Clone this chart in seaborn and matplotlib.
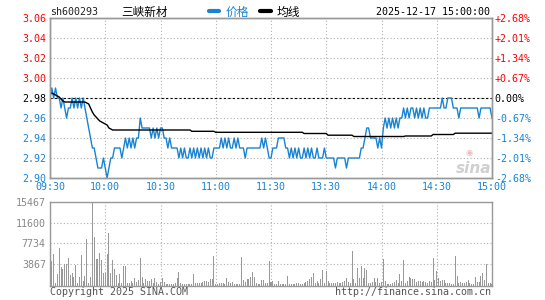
import numpy as np
import pandas as pd
import matplotlib
matplotlib.use("Agg")
import matplotlib.pyplot as plt
import seaborn as sns

# Datos (un valor por minuto, 09:30-11:30 + 13:00-15:00)
prev_close = 2.98
price_am = [
    2.98, 2.99, 2.98, 2.99, 2.98, 2.98, 2.97, 2.98, 2.97, 2.96,
    2.97, 2.97, 2.98, 2.97, 2.98, 2.97, 2.98, 2.97, 2.98, 2.97,
    2.96, 2.95, 2.94, 2.93, 2.93, 2.92, 2.91, 2.91, 2.91, 2.92,
    2.91, 2.90, 2.91, 2.92, 2.92, 2.93, 2.93, 2.93, 2.93, 2.92,
    2.93, 2.94, 2.93, 2.94, 2.93, 2.94, 2.93, 2.94, 2.94, 2.96,
    2.95, 2.95, 2.95, 2.95, 2.95, 2.94, 2.95, 2.94, 2.95, 2.94,
    2.95, 2.95, 2.94, 2.94, 2.93, 2.94, 2.93, 2.93, 2.93, 2.93,
    2.92, 2.93, 2.92, 2.93, 2.92, 2.92, 2.93, 2.92, 2.93, 2.92,
    2.93, 2.92, 2.93, 2.92, 2.93, 2.92, 2.93, 2.92, 2.92, 2.93,
    2.93, 2.93, 2.93, 2.94, 2.93, 2.94, 2.93, 2.94, 2.93, 2.93,
    2.94, 2.93, 2.94, 2.93, 2.93, 2.93, 2.92, 2.93, 2.93, 2.93,
    2.93, 2.93, 2.93, 2.93, 2.93, 2.94, 2.93, 2.94, 2.93, 2.92,
    2.92,
]
price_pm = [
    2.93, 2.93, 2.93, 2.94, 2.94, 2.94, 2.94, 2.93, 2.93, 2.92,
    2.93, 2.92, 2.93, 2.92, 2.93, 2.92, 2.92, 2.93, 2.92, 2.93,
    2.92, 2.93, 2.92, 2.92, 2.93, 2.92, 2.92, 2.92, 2.93, 2.92,
    2.92, 2.92, 2.92, 2.92, 2.91, 2.92, 2.92, 2.92, 2.92, 2.92,
    2.91, 2.92, 2.92, 2.92, 2.92, 2.92, 2.92, 2.92, 2.93, 2.93,
    2.94, 2.95, 2.95, 2.94, 2.94, 2.94, 2.94, 2.93, 2.94, 2.93,
    2.95, 2.96, 2.95, 2.96, 2.95, 2.96, 2.95, 2.96, 2.95, 2.96,
    2.96, 2.97, 2.96, 2.97, 2.96, 2.97, 2.97, 2.96, 2.97, 2.96,
    2.97, 2.96, 2.97, 2.96, 2.96, 2.97, 2.97, 2.97, 2.97, 2.97,
    2.97, 2.97, 2.98, 2.97, 2.97, 2.98, 2.98, 2.98, 2.97, 2.97,
    2.97, 2.96, 2.97, 2.97, 2.97, 2.97, 2.97, 2.97, 2.97, 2.97,
    2.97, 2.97, 2.96, 2.97, 2.97, 2.97, 2.97, 2.97, 2.97, 2.96,
]

# Línea de precio medio: niveles leídos y cuántos minutos dura cada uno
avg_levels = [2.984, 2.985, 2.984, 2.983, 2.982, 2.981, 2.979, 2.977, 2.976,
              2.975, 2.974, 2.970, 2.966, 2.963, 2.961, 2.959, 2.957, 2.956,
              2.955, 2.954, 2.953, 2.950, 2.949, 2.948, 2.9467, 2.9457,
              2.9445, 2.9428, 2.9415, 2.9420, 2.9435, 2.9448]
avg_runs = [1, 1, 1, 1, 1, 1, 1, 1, 12,
            1, 1, 1, 1, 1, 1, 1, 1, 1,
            1, 1, 1, 1, 1, 43, 13, 48,
            13, 14, 28, 15, 12, 21]

volume = [
    740, 4460, 5760, 500, 2040, 6930, 3400, 3100, 4000, 4000,
    5080, 1980, 2290, 1480, 3780, 500, 1550, 5570, 740, 1730,
    8480, 500, 1550, 15467, 8970, 4830, 4830, 6070, 4640, 2350,
    2230, 5880, 9600, 2350, 4640, 2970, 1860, 500, 2040, 500,
    3590, 3590, 500, 500, 800, 370, 1350, 680, 1040, 5100,
    1540, 550, 1170, 740, 920, 1230, 430, 1470, 680, 300,
    700, 1320, 700, 300, 250, 300, 350, 300, 400, 1320,
    2490, 400, 300, 250, 300, 350, 300, 250, 2120, 500,
    400, 500, 500, 620, 750, 750, 620, 1140, 1140, 5430,
    300, 350, 400, 400, 520, 300, 1320, 620, 520, 620,
    300, 250, 300, 350, 5190, 1010, 620, 1140, 1140, 1500,
    2490, 1630, 400, 300, 350, 1010, 1010, 400, 400, 4450,
    600, 920, 300, 300, 920, 300, 250, 300, 350, 1750,
    300, 300, 250, 300, 400, 500, 300, 350, 500, 620,
    800, 1140, 1630, 2240, 400, 740, 400, 1140, 2860, 400,
    2670, 740, 550, 500, 550, 450, 650, 400, 400, 650,
    920, 1350, 650, 500, 6390, 1170, 550, 3250, 1350, 3620,
    1410, 3250, 2890, 550, 550, 650, 1410, 650, 1410, 550,
    650, 4910, 920, 350, 350, 350, 550, 650, 1040, 400,
    2150, 740, 4730, 500, 920, 1540, 1290, 1170, 1170, 650,
    920, 920, 650, 920, 650, 550, 920, 650, 5100, 1040,
    2700, 1410, 920, 1040, 980, 430, 370, 370, 300, 300,
    5460, 1780, 550, 650, 550, 550, 650, 1040, 550, 300,
    300, 1540, 650, 650, 1780, 2330, 1040, 3990, 550, 400,
    300,
]

price_ticks = [2.90, 2.92, 2.94, 2.96, 2.98, 3.00, 3.02, 3.04, 3.06]
time_labels = ["09:30", "10:00", "10:30", "11:00", "11:30",
               "13:30", "14:00", "14:30", "15:00"]
vol_ticks = [3867, 7734, 11600, 15467]

price = price_am + price_pm
df = pd.DataFrame({
    "minuto": np.arange(len(price)),
    "precio": price,
    "media": np.repeat(avg_levels, avg_runs),
    "volumen": volume,
})

sns.set_theme(style="white")
plt.rcParams["font.family"] = ["DejaVu Sans Mono", "Noto Sans CJK SC"]

BLUE = "#1883d2"
RED = "#ff0000"
GRAY = "#999999"
MONO = 7.2

fig = plt.figure(figsize=(5.45, 3.0), dpi=100)
W, H = 545, 300
ax = fig.add_axes([50 / W, 1 - 178 / H, 442 / W, 160 / H])
axv = fig.add_axes([50 / W, 1 - 285.5 / H, 442 / W, 84 / H])

# Precio y media
sns.lineplot(data=df, x="minuto", y="precio", ax=ax, color=BLUE, linewidth=1.0, label="价格")
sns.lineplot(data=df, x="minuto", y="media", ax=ax, color="black", linewidth=1.0, label="均线")
ax.axhline(prev_close, color="black", linestyle=(0, (2, 2)), linewidth=0.8, zorder=1)

ax.set_xlim(0, 240)
ax.set_ylim(price_ticks[0], price_ticks[-1])
ax.set_xticks(np.arange(0, 241, 30))
ax.set_xticklabels(time_labels)
ax.set_yticks(price_ticks)
ax.set_yticklabels([f"{p:.2f}" for p in price_ticks])
ax.set_xlabel("")
ax.set_ylabel("")
ax.grid(True, color="#b0b0b0", linestyle=(0, (1, 2)), linewidth=0.8)
ax.tick_params(length=0, labelsize=MONO, pad=3)
for lab in ax.get_xticklabels():
    lab.set_color(BLUE)

def pcolor(p):
    if p > prev_close + 1e-9:
        return RED
    if p < prev_close - 1e-9:
        return BLUE
    return "black"

for lab, p in zip(ax.get_yticklabels(), price_ticks):
    lab.set_color(pcolor(p))

# Eje derecho en porcentaje
ax2 = ax.twinx()
ax2.set_ylim(ax.get_ylim())
ax2.set_yticks(price_ticks)
pct = [(p / prev_close - 1) * 100 for p in price_ticks]
ax2.set_yticklabels([("+" if v > 0.001 else ("-" if v < -0.001 else "")) + f"{abs(v):.2f}%" for v in pct])
ax2.tick_params(length=0, labelsize=MONO, pad=2)
for lab, p in zip(ax2.get_yticklabels(), price_ticks):
    lab.set_color(pcolor(p))
ax2.grid(False)

for a in (ax, ax2):
    for s in a.spines.values():
        s.set_color(GRAY)
        s.set_linewidth(1.0)

leg = ax.legend(loc="center left", bbox_to_anchor=(198 / W, 1 - 12 / H),
                bbox_transform=fig.transFigure, ncol=2, frameon=False,
                handlelength=0.9, handletextpad=0.5, columnspacing=1.0,
                prop={"family": ["Noto Sans CJK SC"], "size": 8.5})
for h in leg.legend_handles:
    h.set_linewidth(3)
for t, c in zip(leg.get_texts(), [BLUE, "black"]):
    t.set_color(c)

# Volumen
sns.barplot(data=df, x="minuto", y="volumen", ax=axv, native_scale=True,
            color=GRAY, width=0.55, errorbar=None, saturation=1, linewidth=0)
axv.set_xlim(0, 240)
axv.set_ylim(0, vol_ticks[-1])
axv.set_xticks(np.arange(0, 241, 30))
axv.set_xticklabels([])
axv.set_yticks(vol_ticks)
axv.set_yticklabels([str(v) for v in vol_ticks])
axv.set_xlabel("")
axv.set_ylabel("")
axv.grid(True, color="#b0b0b0", linestyle=(0, (1, 2)), linewidth=0.8)
axv.set_axisbelow(True)
axv.tick_params(length=0, labelsize=MONO, pad=3, labelcolor="#888888")
for s in axv.spines.values():
    s.set_color(GRAY)
    s.set_linewidth(1.0)

# Cabecera y pie
fig.text(50 / W, 1 - 12 / H, "sh600293", fontsize=MONO, va="center", ha="left", color="#222222")
fig.text(121 / W, 1 - 12 / H, "三峡新材", fontsize=8.4, va="center", ha="left",
         family=["Noto Sans CJK SC"], color="black")
fig.text(490 / W, 1 - 12 / H, "2025-12-17 15:00:00", fontsize=MONO, va="center", ha="right", color="black")
fig.text(50 / W, 1 - 292 / H, "Copyright 2025 SINA.COM", fontsize=MONO, va="center", ha="left", color="#555555")
fig.text(491 / W, 1 - 292 / H, "http://finance.sina.com.cn", fontsize=MONO, va="center", ha="right", color="#555555")

# Marca de agua
fig.text(474 / W, 1 - 168 / H, "sina", fontsize=11, fontstyle="italic", fontweight="bold",
         family=["DejaVu Sans"], color="#d0d0d0", ha="center", va="center")
fig.text(469 / W, 1 - 152 / H, "◉", fontsize=6, family=["DejaVu Sans"], color="#f2b8b8",
         ha="center", va="center")

fig.savefig("out.png", dpi=100)
plt.close(fig)
